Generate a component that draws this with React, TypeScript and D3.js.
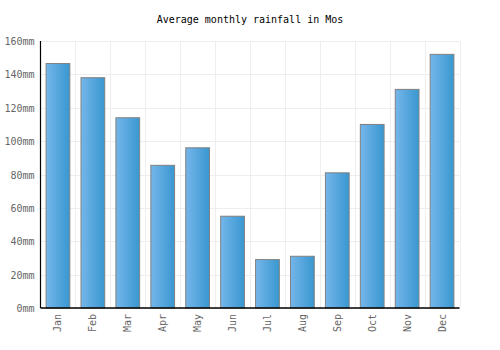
import { useEffect, useRef } from "react"
import * as d3 from "d3"

const months = ["Jan", "Feb", "Mar", "Apr", "May", "Jun", "Jul", "Aug", "Sep", "Oct", "Nov", "Dec"]
const rainfall = [146.5, 138, 114, 85.5, 96, 55, 29, 31, 81, 110, 131, 152]
const yTicks = [0, 20, 40, 60, 80, 100, 120, 140, 160]

export default function App() {
  const svgRef = useRef<SVGSVGElement>(null)

  useEffect(() => {
    if (!svgRef.current) return
    const svg = d3.select(svgRef.current)
    svg.selectAll("*").remove()

    const width = 500
    const height = 350
    const margin = { top: 41, right: 40.5, bottom: 42, left: 40.5 }
    const font = "'DejaVu Sans Mono', monospace"

    const x = d3
      .scaleBand<string>()
      .domain(months)
      .range([margin.left, width - margin.right])
      .padding(0)

    const y = d3
      .scaleLinear()
      .domain([0, 160])
      .range([height - margin.bottom, margin.top])

    // Gradient for bars
    const defs = svg.append("defs")
    const grad = defs
      .append("linearGradient")
      .attr("id", "barGrad")
      .attr("x1", "0%")
      .attr("x2", "100%")
      .attr("y1", "0%")
      .attr("y2", "0%")
    grad.append("stop").attr("offset", "0%").attr("stop-color", "#74b6ea")
    grad.append("stop").attr("offset", "100%").attr("stop-color", "#3997d0")

    // Title
    svg
      .append("text")
      .attr("x", width / 2)
      .attr("y", 23)
      .attr("text-anchor", "middle")
      .style("font-family", font)
      .style("font-size", "10px")
      .attr("fill", "#000")
      .text("Average monthly rainfall in Mos")

    // Horizontal grid
    svg
      .append("g")
      .selectAll("line")
      .data(yTicks)
      .join("line")
      .attr("x1", margin.left)
      .attr("x2", width - margin.right)
      .attr("y1", (d) => Math.round(y(d)) + 0.5)
      .attr("y2", (d) => Math.round(y(d)) + 0.5)
      .attr("stroke", "#eeeeee")

    // Vertical grid
    svg
      .append("g")
      .selectAll("line")
      .data(months)
      .join("line")
      .attr("x1", (d) => Math.round((x(d) as number) + x.bandwidth()) + 0.5)
      .attr("x2", (d) => Math.round((x(d) as number) + x.bandwidth()) + 0.5)
      .attr("y1", margin.top)
      .attr("y2", height - margin.bottom)
      .attr("stroke", "#eeeeee")

    // Bars
    const inset = x.bandwidth() * 0.16
    svg
      .append("g")
      .selectAll("rect")
      .data(rainfall)
      .join("rect")
      .attr("x", (d, i) => (x(months[i]) as number) + inset)
      .attr("y", (d) => y(d))
      .attr("width", x.bandwidth() - inset * 2)
      .attr("height", (d) => y(0) - y(d))
      .attr("fill", "url(#barGrad)")
      .attr("stroke", "#808080")
      .attr("stroke-width", 1)

    // Axes lines
    svg
      .append("line")
      .attr("x1", margin.left)
      .attr("x2", margin.left)
      .attr("y1", margin.top)
      .attr("y2", height - margin.bottom)
      .attr("stroke", "#000")
      .attr("stroke-width", 1.2)
    svg
      .append("line")
      .attr("x1", margin.left)
      .attr("x2", width - margin.right)
      .attr("y1", height - margin.bottom)
      .attr("y2", height - margin.bottom)
      .attr("stroke", "#000")
      .attr("stroke-width", 1.5)

    // Y labels
    svg
      .append("g")
      .selectAll("text")
      .data(yTicks)
      .join("text")
      .attr("x", margin.left - 6)
      .attr("y", (d) => y(d) + 4)
      .attr("text-anchor", "end")
      .style("font-family", font)
      .style("font-size", "10px")
      .attr("fill", "#666")
      .text((d) => `${d}mm`)

    // X labels
    svg
      .append("g")
      .selectAll("text")
      .data(months)
      .join("text")
      .attr(
        "transform",
        (d) => `translate(${(x(d) as number) + x.bandwidth() / 2 + 3.5},${height - margin.bottom + 6}) rotate(-90)`
      )
      .attr("text-anchor", "end")
      .style("font-family", font)
      .style("font-size", "10px")
      .attr("fill", "#666")
      .text((d) => d)
  }, [])

  return <svg ref={svgRef} width={500} height={350} style={{ display: "block", position: "absolute", left: 0, top: 0 }}></svg>
}
